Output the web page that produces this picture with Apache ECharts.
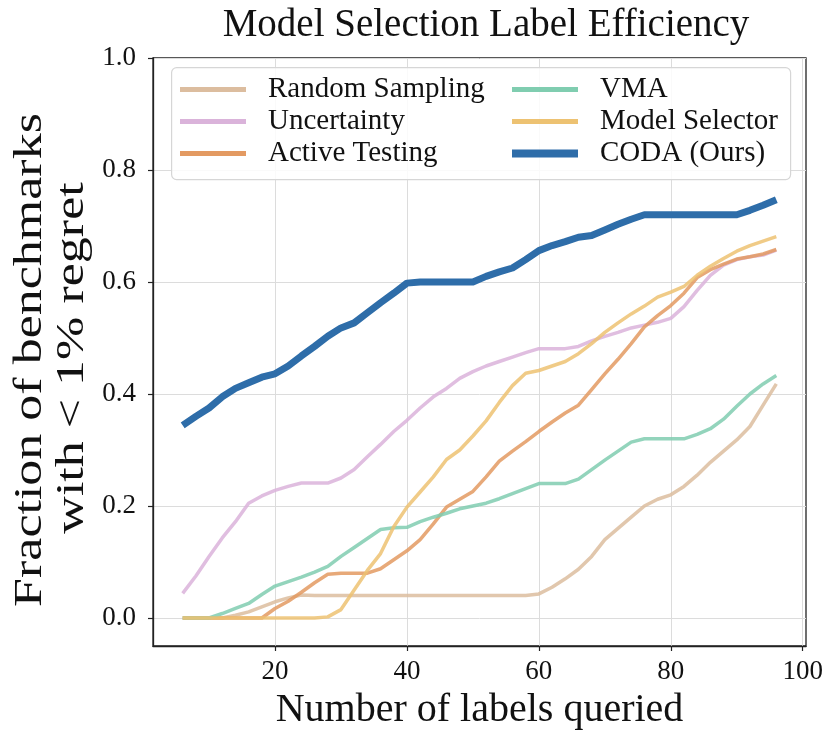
<!DOCTYPE html>
<html>
<head>
<meta charset="utf-8">
<script src="https://cdn.jsdelivr.net/npm/echarts@6/dist/echarts.min.js"></script>
<style>html,body{margin:0;padding:0;background:#fff}#c{width:828px;height:731px}</style>
</head>
<body>
<div id="c"></div>
<script>
const labelsQueried = [6,8,10,12,14,16,18,20,22,24,26,28,30,32,34,36,38,40,42,44,46,48,50,52,54,56,58,60,62,64,66,68,70,72,74,76,78,80,82,84,86,88,90,92,94,96];
const randomSampling = [0,0,0,0,0.005,0.011,0.02,0.029,0.036,0.041,0.04,0.04,0.04,0.04,0.04,0.04,0.04,0.04,0.04,0.04,0.04,0.04,0.04,0.04,0.04,0.04,0.04,0.043,0.055,0.07,0.087,0.11,0.14,0.16,0.18,0.2,0.212,0.22,0.235,0.255,0.278,0.298,0.318,0.342,0.38,0.418];
const uncertainty = [0.044,0.075,0.11,0.143,0.172,0.205,0.218,0.228,0.235,0.241,0.241,0.241,0.25,0.265,0.288,0.31,0.333,0.353,0.375,0.395,0.41,0.428,0.44,0.45,0.458,0.466,0.474,0.481,0.481,0.481,0.485,0.495,0.503,0.51,0.518,0.523,0.528,0.535,0.556,0.585,0.612,0.63,0.64,0.645,0.648,0.657];
const activeTesting = [0,0,0,0,0,0,0,0.017,0.03,0.046,0.063,0.078,0.08,0.08,0.08,0.088,0.104,0.12,0.14,0.168,0.198,0.212,0.226,0.252,0.28,0.298,0.315,0.333,0.35,0.366,0.38,0.408,0.436,0.462,0.49,0.52,0.54,0.558,0.58,0.608,0.622,0.632,0.641,0.645,0.65,0.658];
const vma = [0,0,0,0.008,0.017,0.026,0.042,0.057,0.065,0.073,0.082,0.092,0.11,0.126,0.142,0.158,0.161,0.162,0.172,0.18,0.187,0.195,0.2,0.205,0.213,0.222,0.231,0.24,0.24,0.24,0.248,0.265,0.282,0.298,0.314,0.32,0.32,0.32,0.32,0.328,0.338,0.355,0.378,0.4,0.418,0.433];
const modelSelector = [0,0,0,0,0,0,0,0,0,0,0,0.002,0.015,0.05,0.085,0.115,0.163,0.198,0.225,0.252,0.283,0.3,0.325,0.352,0.385,0.415,0.437,0.442,0.45,0.458,0.472,0.49,0.51,0.527,0.543,0.557,0.573,0.582,0.592,0.612,0.628,0.642,0.655,0.665,0.673,0.681];
const coda = [0.344,0.36,0.375,0.395,0.41,0.42,0.43,0.436,0.45,0.468,0.485,0.503,0.518,0.527,0.545,0.563,0.58,0.598,0.6,0.6,0.6,0.6,0.6,0.61,0.618,0.625,0.64,0.656,0.665,0.672,0.68,0.683,0.693,0.703,0.712,0.72,0.72,0.72,0.72,0.72,0.72,0.72,0.72,0.728,0.737,0.747];
const xTicks = [20,40,60,80,100];
const yTicks = [0,0.2,0.4,0.6,0.8,1.0];
const yTitleLines = ['Fraction of benchmarks', 'with < 1% regret'];

const FONT = 'Liberation Serif';
const pairs = arr => labelsQueried.map((x,i)=>[x,arr[i]]);
const defs = [
  {name:'Random Sampling', data:randomSampling, color:'#dcbd9f', w:3.5, op:0.85},
  {name:'Uncertainty', data:uncertainty, color:'#dab3da', w:3.5, op:0.85},
  {name:'Active Testing', data:activeTesting, color:'#e39a62', w:3.5, op:0.85},
  {name:'VMA', data:vma, color:'#80cdb0', w:3.5, op:0.85},
  {name:'Model Selector', data:modelSelector, color:'#edc272', w:3.5, op:0.85},
  {name:'CODA (Ours)', data:coda, color:'#2e6da9', w:7, op:1}
];
const legendBase = {
  orient:'vertical', padding:0, itemWidth:66, icon:'rect',
  textStyle:{fontFamily:FONT, fontSize:29, color:'#111', lineHeight:26, padding:[0,0,0,17]},
  itemGap:3, selectedMode:false, z:10
};
const chart = echarts.init(document.getElementById('c'));
chart.setOption({
  animation:false,
  title:{text:'Model Selection Label Efficiency', left:481, textAlign:'center', top:1,
    textStyle:{fontFamily:FONT, fontSize:39, fontWeight:'normal', color:'#111'}},
  grid:{left:153, right:22, top:58, bottom:85, show:true, borderColor:'#222', borderWidth:1.3,
    backgroundColor:'transparent', containLabel:false, outerBoundsMode:'none'},
  graphic:[
    {type:'rect', left:171, top:67, shape:{width:619, height:112, r:5}, z:8,
      style:{fill:'rgba(255,255,255,0.85)', stroke:'#d6d6d6', lineWidth:1.2}},
    {type:'text', x:30, y:360, rotation:Math.PI/2, scaleX:1.3, scaleY:1, z:10,
      style:{text:yTitleLines[0], font:'40px "Liberation Serif"', fill:'#111', align:'center', verticalAlign:'middle'}},
    {type:'text', x:72, y:358, rotation:Math.PI/2, scaleX:1.3, scaleY:1, z:10,
      style:{text:yTitleLines[1], font:'40px "Liberation Serif"', fill:'#111', align:'center', verticalAlign:'middle'}}
  ],
  legend:[
    Object.assign({}, legendBase, {left:180, top:75, itemHeight:5, data:['Random Sampling','Uncertainty','Active Testing']}),
    Object.assign({}, legendBase, {left:512, top:75, itemHeight:5, data:['VMA','Model Selector']}),
    Object.assign({}, legendBase, {left:512, top:139, itemHeight:8, data:['CODA (Ours)']})
  ],
  xAxis:{type:'value', min:1.5, max:100.5,
    name:'Number of labels queried', nameLocation:'middle', nameGap:44, nameMoveOverlap:false,
    nameTextStyle:{fontFamily:FONT, fontSize:40, color:'#111'},
    axisLine:{show:true, onZero:false, lineStyle:{color:'#222', width:1.3}},
    axisTick:{show:true, length:5, customValues:xTicks, lineStyle:{color:'#222', width:1.2}},
    axisLabel:{customValues:xTicks, margin:12, fontFamily:FONT, fontSize:27, color:'#111'},
    splitLine:{show:true, lineStyle:{color:'#dcdcdc', width:1}}},
  yAxis:{type:'value', min:-0.05, max:1.0,
    axisLine:{show:true, onZero:false, lineStyle:{color:'#222', width:1.3}},
    axisTick:{show:true, length:5, customValues:yTicks, lineStyle:{color:'#222', width:1.2}},
    axisLabel:{customValues:yTicks, margin:17, fontFamily:FONT, fontSize:27, color:'#111', formatter:v=>v.toFixed(1)},
    splitLine:{show:true, lineStyle:{color:'#dcdcdc', width:1}}},
  series: defs.map(d=>({type:'line', name:d.name, data:pairs(d.data), showSymbol:false, symbol:'none',
    color:d.color, lineStyle:{color:d.color, width:d.w, cap:'butt', join:'round', opacity:d.op}, itemStyle:{color:d.color}, z: d.w>5?4:2}))
});
</script>
</body>
</html>
